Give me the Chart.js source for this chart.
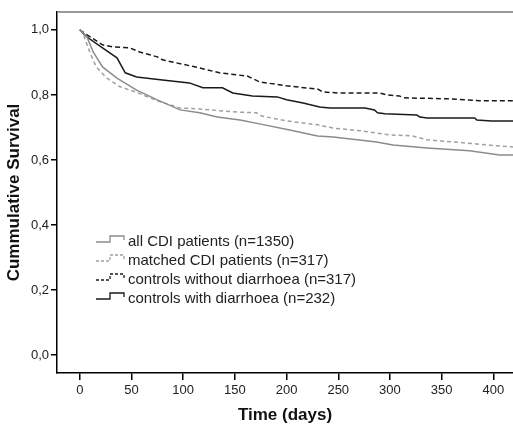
<!DOCTYPE html>
<html>
<head>
<meta charset="utf-8">
<script src="https://cdn.jsdelivr.net/npm/chart.js@4/dist/chart.umd.min.js"></script>
<style>
  html, body { margin: 0; padding: 0; background: #fff; }
  #wrap { width: 513px; height: 426px; position: relative; }
</style>
</head>
<body>
<div id="wrap"><canvas id="km"></canvas></div>
<script>
// Kaplan-Meier curves, values (days, cumulative survival)
const allCdiDays = [0, 3, 7, 13, 22, 36, 55, 75, 97, 116, 133, 155, 174, 203, 230, 245, 287, 303, 336, 377, 406, 419];
const allCdiSurv = [1.0, 0.991, 0.978, 0.932, 0.886, 0.852, 0.815, 0.785, 0.754, 0.745, 0.732, 0.723, 0.711, 0.692, 0.674, 0.671, 0.655, 0.646, 0.637, 0.628, 0.615, 0.615];

const matchedDays = [0, 3, 10, 16, 26, 39, 55, 75, 97, 116, 148, 171, 176, 200, 230, 245, 274, 300, 322, 336, 374, 406, 419];
const matchedSurv = [1.0, 0.991, 0.929, 0.886, 0.852, 0.825, 0.808, 0.782, 0.760, 0.757, 0.748, 0.745, 0.735, 0.720, 0.708, 0.698, 0.689, 0.677, 0.674, 0.662, 0.652, 0.643, 0.640];

const noDiarrDays = [0, 7, 22, 32, 48, 58, 75, 80, 116, 135, 162, 174, 200, 230, 235, 251, 290, 297, 309, 314, 358, 387, 419];
const noDiarrSurv = [1.0, 0.985, 0.954, 0.948, 0.945, 0.932, 0.917, 0.908, 0.883, 0.868, 0.858, 0.840, 0.828, 0.818, 0.809, 0.806, 0.806, 0.800, 0.797, 0.791, 0.788, 0.782, 0.782];

const diarrDays = [0, 7, 22, 36, 44, 55, 80, 106, 119, 138, 148, 167, 191, 200, 216, 232, 242, 276, 285, 288, 295, 326, 329, 336, 382, 384, 398, 419];
const diarrSurv = [1.0, 0.978, 0.945, 0.914, 0.868, 0.855, 0.846, 0.837, 0.822, 0.822, 0.806, 0.797, 0.794, 0.785, 0.775, 0.763, 0.760, 0.760, 0.754, 0.745, 0.742, 0.738, 0.732, 0.729, 0.729, 0.723, 0.720, 0.720];

const seriesLabels = [
  'all CDI patients (n=1350)',
  'matched CDI patients (n=317)',
  'controls without diarrhoea (n=317)',
  'controls with diarrhoea (n=232)'
];
const xTicks = [0, 50, 100, 150, 200, 250, 300, 350, 400];
const yTicks = [0, 0.2, 0.4, 0.6, 0.8, 1.0];

const toPoints = (xs, ys) => xs.map((x, i) => ({ x: x, y: ys[i] }));

const styles = [
  { color: '#8c8c8c', dash: [] },
  { color: '#a0a0a0', dash: [4, 3] },
  { color: '#1a1a1a', dash: [5, 3] },
  { color: '#1a1a1a', dash: [] }
];

const seriesData = [
  toPoints(allCdiDays, allCdiSurv),
  toPoints(matchedDays, matchedSurv),
  toPoints(noDiarrDays, noDiarrSurv),
  toPoints(diarrDays, diarrSurv)
];

// step-shaped legend drawn inside the plot, plus the grey top frame line
const kmLegend = {
  id: 'kmLegend',
  afterDraw(chart) {
    const ctx = chart.ctx;
    const area = chart.chartArea;
    ctx.save();
    ctx.strokeStyle = '#777';
    ctx.lineWidth = 1.5;
    ctx.beginPath();
    ctx.moveTo(area.left, area.top);
    ctx.lineTo(area.right, area.top);
    ctx.stroke();

    ctx.font = '15px "Liberation Sans", Arial, sans-serif';
    ctx.textBaseline = 'middle';
    ctx.fillStyle = '#222';
    seriesLabels.forEach((lab, i) => {
      const cy = 241 + i * 19;
      ctx.strokeStyle = styles[i].color;
      ctx.setLineDash(styles[i].dash.length ? [3, 2] : []);
      ctx.lineWidth = 1.3;
      ctx.beginPath();
      ctx.moveTo(96, cy + 1);
      ctx.lineTo(110, cy + 1);
      ctx.lineTo(110, cy - 5);
      ctx.lineTo(124, cy - 5);
      ctx.lineTo(124, cy - 1);
      ctx.stroke();
      ctx.setLineDash([]);
      ctx.fillText(lab, 128, cy + 1);
    });
    ctx.restore();
  }
};

new Chart(document.getElementById('km').getContext('2d'), {
  type: 'line',
  data: {
    datasets: seriesData.map((d, i) => ({
      label: seriesLabels[i],
      data: d,
      borderColor: styles[i].color,
      borderDash: styles[i].dash,
      borderWidth: 1.5,
      pointRadius: 0,
      tension: 0,
      fill: false
    }))
  },
  options: {
    responsive: true,
    maintainAspectRatio: false,
    animation: false,
    layout: { padding: { top: 12, right: 0, left: 0, bottom: 0 } },
    plugins: { legend: { display: false }, tooltip: { enabled: false } },
    scales: {
      x: {
        type: 'linear',
        min: -22,
        max: 419,
        afterFit: s => { s.height = 53; },
        afterBuildTicks: s => { s.ticks = xTicks.map(v => ({ value: v })); },
        grid: { drawOnChartArea: false, drawTicks: true, tickLength: 7, color: '#000', lineWidth: 1.5 },
        border: { display: true, color: '#000', width: 1.5 },
        ticks: {
          color: '#222',
          padding: 3,
          maxRotation: 0,
          font: { family: '"Liberation Sans", Arial, sans-serif', size: 13 }
        },
        title: {
          display: true,
          text: 'Time (days)',
          color: '#111',
          padding: { top: 0, bottom: 0 },
          font: { family: '"Liberation Sans", Arial, sans-serif', size: 17, weight: 'bold' }
        }
      },
      y: {
        min: -0.055,
        max: 1.055,
        afterFit: s => { s.width = 57; },
        afterBuildTicks: s => { s.ticks = yTicks.map(v => ({ value: v })); },
        grid: { drawOnChartArea: false, drawTicks: true, tickLength: 6, color: '#000', lineWidth: 1.5 },
        border: { display: true, color: '#000', width: 1.5 },
        ticks: {
          color: '#222',
          padding: 2,
          callback: v => v.toFixed(1).replace('.', ','),
          font: { family: '"Liberation Sans", Arial, sans-serif', size: 13 }
        },
        title: {
          display: true,
          text: 'Cummulative Survival',
          color: '#111',
          padding: { top: 4, bottom: 0 },
          font: { family: '"Liberation Sans", Arial, sans-serif', size: 17, weight: 'bold' }
        }
      }
    }
  },
  plugins: [kmLegend]
});
</script>
</body>
</html>
